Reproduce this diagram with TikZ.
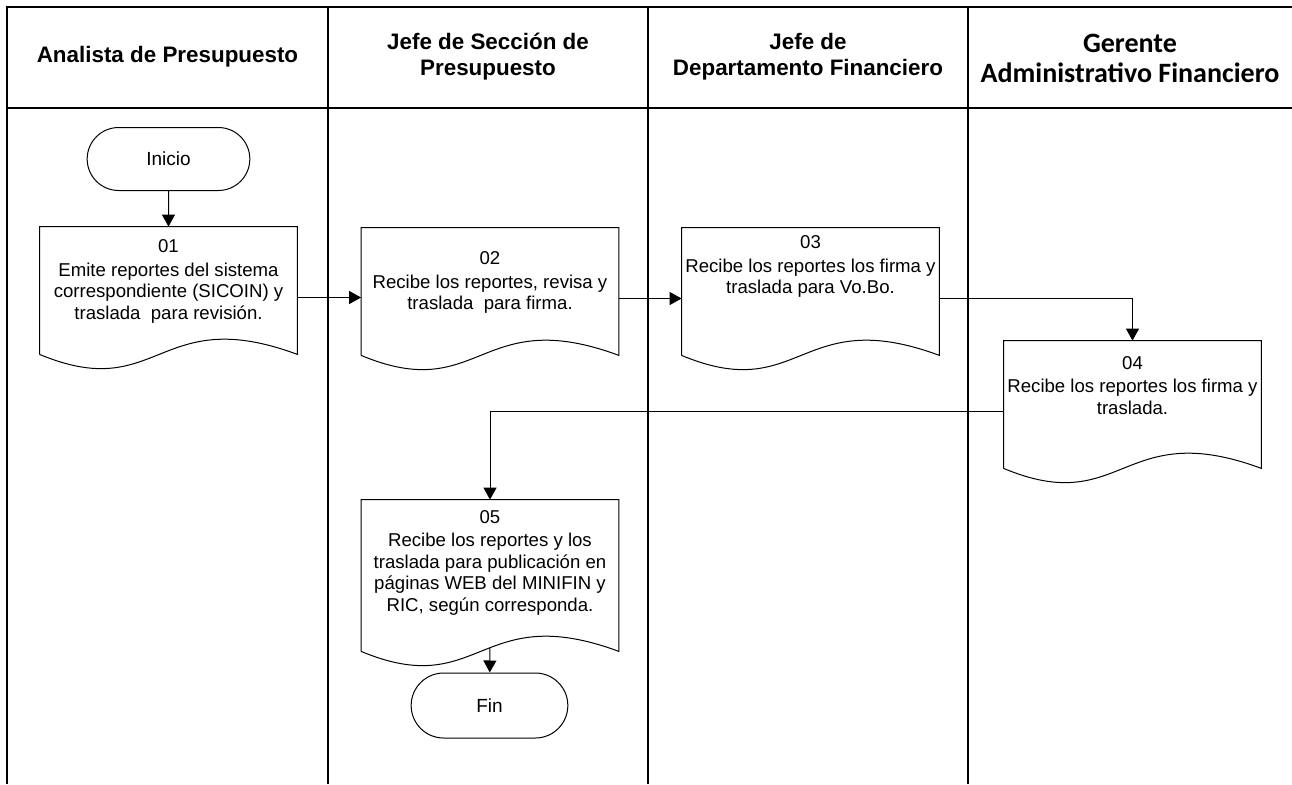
\documentclass[tikz,border=0pt]{standalone}
\usepackage{fontspec}
\setmainfont{Liberation Sans}
\newfontfamily\carlito{Carlito}
\usetikzlibrary{shapes.misc,arrows.meta,positioning}

\tikzset{
  lane/.style={line width=0.75pt},
  header/.style={font=\fontsize{11.2}{13}\selectfont\bfseries, align=center},
  docbox/.style={rectangle, minimum width=128.5pt, minimum height=70.5pt, inner sep=0pt},
  doctext/.style={font=\fontsize{9.3}{10.75}\selectfont, align=center, inner sep=0pt},
  terminal/.style={rounded rectangle, draw, line width=0.5pt, minimum height=31.5pt,
    minimum width=88pt, font=\fontsize{9.5}{11}\selectfont},
  flow/.style={line width=0.5pt, -{Triangle[length=6pt,width=6.5pt]}}
}
% contorno de documento (borde ondulado abajo)
\newcommand{\docshape}[1]{%
  \draw[line width=0.5pt] ([yshift=7pt]#1.south west) -- (#1.north west) -- (#1.north east)
    -- ([yshift=7pt]#1.south east) .. controls +(-70pt,26pt) and +(60pt,-25pt) .. ([yshift=7pt]#1.south west);}

\begin{document}
\begin{tikzpicture}[x=0.5pt,y=-0.5pt]
\useasboundingbox (0,0) rectangle (1292,784);

% carriles
\draw[lane] (7,784) -- (7,7) -- (1292,7);
\draw[lane] (7,108) -- (1292,108);
\foreach \x in {328,648,968}
  \draw[lane] (\x,7) -- (\x,784);

\node[header] (h1) at (167.5,57) {Analista de Presupuesto};
\node[header] (h2) at (488,57) {Jefe de Sección de\\Presupuesto};
\node[header] (h3) at (808,57) {Jefe de\\Departamento Financiero};
\node[header, font=\carlito\fontsize{14}{15}\selectfont\bfseries] (h4) at (1130,58) {Gerente\\Administrativo Financiero};

% pasos
\node[terminal] (ini) at (168.5,159) {Inicio};

\node[docbox] (d1) at (168.5,297.5) {};
\node[doctext] (t1) at ([yshift=8pt]d1.center) {01\\[1pt]Emite reportes del sistema\\correspondiente (SICOIN) y\\traslada\ \ para revisión.};
\docshape{d1}

\node[docbox] (d2) at (490,298.5) {};
\node[doctext] (t2) at ([yshift=8pt]d2.center) {02\\[1pt]Recibe los reportes, revisa y\\traslada\ \ para firma.};
\docshape{d2}

\node[docbox] (d3) at (810.5,298.5) {};
\node[doctext] (t3) at ([yshift=16pt]d3.center) {03\\[1pt]Recibe los reportes los firma y\\traslada para Vo.Bo.};
\docshape{d3}

\node[docbox] (d4) at (1132.5,411.5) {};
\node[doctext] (t4) at ([yshift=13pt]d4.center) {04\\[1pt]Recibe los reportes los firma y\\traslada.};
\docshape{d4}

\node[docbox, minimum height=82.5pt] (d5) at (490,582.5) {};
\node[doctext] (t5) at ([yshift=10pt]d5.center) {05\\[1pt]Recibe los reportes y los\\traslada para publicación en\\páginas WEB del MINIFIN y\\RIC, según corresponda.};
\docshape{d5}

\node[terminal, minimum height=32.5pt, minimum width=85pt] (fin) at (489.5,705.5) {Fin};

% conectores
\draw[flow] (ini) -- (d1);
\draw[flow] (d1.east) -- (d1.east -| d2.west);
\draw[flow] (d2.east) -- (d2.east -| d3.west);
\draw[flow] (d3.east) -| (d4.north);
\draw[flow] (d4.west) -| (d5.north);
\draw[flow] ([yshift=9pt]d5.south) -- (fin);
\end{tikzpicture}
\end{document}
